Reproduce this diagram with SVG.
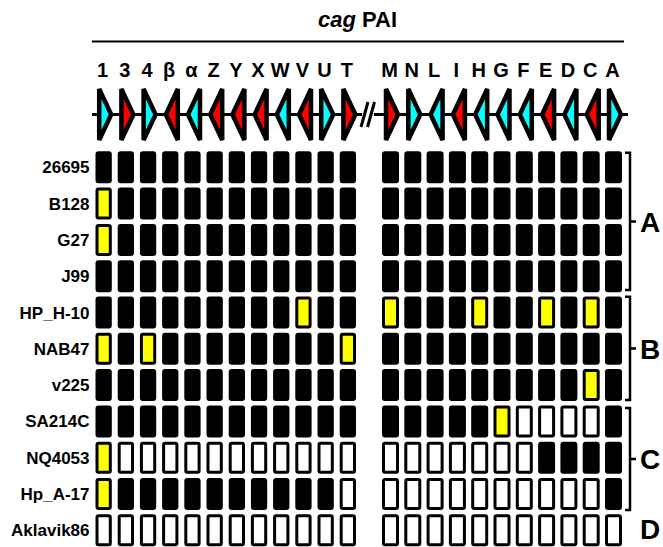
<svg xmlns="http://www.w3.org/2000/svg" xmlns:xlink="http://www.w3.org/1999/xlink" width="663" height="547" viewBox="0 0 663 547">
  <style>
    text { font-family: "Liberation Sans", Arial, sans-serif; font-weight: bold; fill: #000; }
    .title { font-size: 22px; }
    .gene { font-size: 20px; text-anchor: middle; }
    .strain { font-size: 17px; text-anchor: end; }
    .grp { font-size: 28px; }
    .k { fill: #000; }
    .w { fill: #fff; }
    .y { fill: #ffff00; }
    .cell { stroke: #000; stroke-width: 3; }
    .cy { fill: #00ffff; }
    .rd { fill: #ff0000; }
    .gene-arrow { stroke: #000; stroke-width: 4.5; stroke-linejoin: miter; stroke-miterlimit: 3; }
    .line { stroke: #000; fill: none; }
  </style>
  <defs>
    <rect id="cl" class="cell" width="13.3" height="29" rx="1.5"/>
    <rect id="cr" class="cell" width="14" height="29" rx="1.5"/>
    <path id="ar" class="gene-arrow" d="M-6,-25.5 L6,0 L-6,25.5 Z"/>
  </defs>

  <rect width="663" height="547" fill="#fff"/>

  <!-- header -->
  <g id="header">
    <text class="title" x="357.5" y="27" text-anchor="middle"><tspan font-style="italic">cag</tspan> PAI</text>
    <line class="line" x1="92" y1="41.5" x2="624" y2="41.5" stroke-width="2"/>
  </g>

  <!-- gene names -->
  <g id="gene-labels">
    <text class="gene" x="102.6" y="77">1</text>
    <text class="gene" x="124.8" y="77">3</text>
    <text class="gene" x="147" y="77">4</text>
    <text class="gene" x="169.2" y="77">β</text>
    <text class="gene" x="191.4" y="77">α</text>
    <text class="gene" x="213.6" y="77">Z</text>
    <text class="gene" x="235.8" y="77">Y</text>
    <text class="gene" x="258" y="77">X</text>
    <text class="gene" x="280.2" y="77">W</text>
    <text class="gene" x="302.4" y="77">V</text>
    <text class="gene" x="324.6" y="77">U</text>
    <text class="gene" x="346.8" y="77">T</text>
    <text class="gene" x="389.5" y="77">M</text>
    <text class="gene" x="411.8" y="77">N</text>
    <text class="gene" x="434.1" y="77">L</text>
    <text class="gene" x="456.4" y="77">I</text>
    <text class="gene" x="478.7" y="77">H</text>
    <text class="gene" x="501" y="77">G</text>
    <text class="gene" x="523.3" y="77">F</text>
    <text class="gene" x="545.6" y="77">E</text>
    <text class="gene" x="567.9" y="77">D</text>
    <text class="gene" x="590.2" y="77">C</text>
    <text class="gene" x="612.5" y="77">A</text>
  </g>

  <!-- gene map: backbone, break mark and gene arrows -->
  <g id="connectors">
    <line class="line" x1="92" y1="114.5" x2="362" y2="114.5" stroke-width="3"/>
    <line class="line" x1="374" y1="114.5" x2="628" y2="114.5" stroke-width="3"/>
    <line class="line" x1="361" y1="127" x2="368" y2="102" stroke-width="3"/>
    <line class="line" x1="367.5" y1="127" x2="374.5" y2="102" stroke-width="3"/>
  </g>
  <g id="gene-arrows">
    <use href="#ar" class="cy" transform="translate(105.2,114.5)"/>
    <use href="#ar" class="rd" transform="translate(127.4,114.5)"/>
    <use href="#ar" class="cy" transform="translate(149.6,114.5)"/>
    <use href="#ar" class="rd" transform="translate(171.8,114.5) scale(-1,1)"/>
    <use href="#ar" class="cy" transform="translate(194,114.5) scale(-1,1)"/>
    <use href="#ar" class="rd" transform="translate(216.2,114.5) scale(-1,1)"/>
    <use href="#ar" class="rd" transform="translate(238.4,114.5) scale(-1,1)"/>
    <use href="#ar" class="rd" transform="translate(260.6,114.5) scale(-1,1)"/>
    <use href="#ar" class="cy" transform="translate(282.8,114.5) scale(-1,1)"/>
    <use href="#ar" class="rd" transform="translate(305,114.5) scale(-1,1)"/>
    <use href="#ar" class="cy" transform="translate(327.2,114.5)"/>
    <use href="#ar" class="rd" transform="translate(349.4,114.5)"/>
    <use href="#ar" class="rd" transform="translate(392,114.5)"/>
    <use href="#ar" class="cy" transform="translate(414.3,114.5)"/>
    <use href="#ar" class="cy" transform="translate(436.6,114.5) scale(-1,1)"/>
    <use href="#ar" class="rd" transform="translate(458.9,114.5) scale(-1,1)"/>
    <use href="#ar" class="cy" transform="translate(481.2,114.5) scale(-1,1)"/>
    <use href="#ar" class="cy" transform="translate(503.5,114.5) scale(-1,1)"/>
    <use href="#ar" class="cy" transform="translate(525.8,114.5) scale(-1,1)"/>
    <use href="#ar" class="rd" transform="translate(548.1,114.5) scale(-1,1)"/>
    <use href="#ar" class="cy" transform="translate(570.4,114.5) scale(-1,1)"/>
    <use href="#ar" class="rd" transform="translate(592.7,114.5) scale(-1,1)"/>
    <use href="#ar" class="cy" transform="translate(615,114.5)"/>
  </g>

  <!-- strain rows: left block columns 1..T, right block columns M..A -->
  <g id="row-26695" transform="translate(0,152.8)">
    <text class="strain" x="89.5" y="20.5">26695</text>
    <use href="#cl" x="97" class="k"/><use href="#cl" x="119.2" class="k"/><use href="#cl" x="141.4" class="k"/><use href="#cl" x="163.6" class="k"/><use href="#cl" x="185.8" class="k"/><use href="#cl" x="208" class="k"/><use href="#cl" x="230.2" class="k"/><use href="#cl" x="252.4" class="k"/><use href="#cl" x="274.6" class="k"/><use href="#cl" x="296.8" class="k"/><use href="#cl" x="319" class="k"/><use href="#cl" x="341.2" class="k"/>
    <use href="#cr" x="383.5" class="k"/><use href="#cr" x="405.8" class="k"/><use href="#cr" x="428.1" class="k"/><use href="#cr" x="450.4" class="k"/><use href="#cr" x="472.7" class="k"/><use href="#cr" x="495" class="k"/><use href="#cr" x="517.3" class="k"/><use href="#cr" x="539.6" class="k"/><use href="#cr" x="561.9" class="k"/><use href="#cr" x="584.2" class="k"/><use href="#cr" x="606.5" class="k"/>
  </g>
  <g id="row-B128" transform="translate(0,189.1)">
    <text class="strain" x="89.5" y="20.5">B128</text>
    <use href="#cl" x="97" class="y"/><use href="#cl" x="119.2" class="k"/><use href="#cl" x="141.4" class="k"/><use href="#cl" x="163.6" class="k"/><use href="#cl" x="185.8" class="k"/><use href="#cl" x="208" class="k"/><use href="#cl" x="230.2" class="k"/><use href="#cl" x="252.4" class="k"/><use href="#cl" x="274.6" class="k"/><use href="#cl" x="296.8" class="k"/><use href="#cl" x="319" class="k"/><use href="#cl" x="341.2" class="k"/>
    <use href="#cr" x="383.5" class="k"/><use href="#cr" x="405.8" class="k"/><use href="#cr" x="428.1" class="k"/><use href="#cr" x="450.4" class="k"/><use href="#cr" x="472.7" class="k"/><use href="#cr" x="495" class="k"/><use href="#cr" x="517.3" class="k"/><use href="#cr" x="539.6" class="k"/><use href="#cr" x="561.9" class="k"/><use href="#cr" x="584.2" class="k"/><use href="#cr" x="606.5" class="k"/>
  </g>
  <g id="row-G27" transform="translate(0,225.4)">
    <text class="strain" x="89.5" y="20.5">G27</text>
    <use href="#cl" x="97" class="y"/><use href="#cl" x="119.2" class="k"/><use href="#cl" x="141.4" class="k"/><use href="#cl" x="163.6" class="k"/><use href="#cl" x="185.8" class="k"/><use href="#cl" x="208" class="k"/><use href="#cl" x="230.2" class="k"/><use href="#cl" x="252.4" class="k"/><use href="#cl" x="274.6" class="k"/><use href="#cl" x="296.8" class="k"/><use href="#cl" x="319" class="k"/><use href="#cl" x="341.2" class="k"/>
    <use href="#cr" x="383.5" class="k"/><use href="#cr" x="405.8" class="k"/><use href="#cr" x="428.1" class="k"/><use href="#cr" x="450.4" class="k"/><use href="#cr" x="472.7" class="k"/><use href="#cr" x="495" class="k"/><use href="#cr" x="517.3" class="k"/><use href="#cr" x="539.6" class="k"/><use href="#cr" x="561.9" class="k"/><use href="#cr" x="584.2" class="k"/><use href="#cr" x="606.5" class="k"/>
  </g>
  <g id="row-J99" transform="translate(0,261.7)">
    <text class="strain" x="89.5" y="20.5">J99</text>
    <use href="#cl" x="97" class="k"/><use href="#cl" x="119.2" class="k"/><use href="#cl" x="141.4" class="k"/><use href="#cl" x="163.6" class="k"/><use href="#cl" x="185.8" class="k"/><use href="#cl" x="208" class="k"/><use href="#cl" x="230.2" class="k"/><use href="#cl" x="252.4" class="k"/><use href="#cl" x="274.6" class="k"/><use href="#cl" x="296.8" class="k"/><use href="#cl" x="319" class="k"/><use href="#cl" x="341.2" class="k"/>
    <use href="#cr" x="383.5" class="k"/><use href="#cr" x="405.8" class="k"/><use href="#cr" x="428.1" class="k"/><use href="#cr" x="450.4" class="k"/><use href="#cr" x="472.7" class="k"/><use href="#cr" x="495" class="k"/><use href="#cr" x="517.3" class="k"/><use href="#cr" x="539.6" class="k"/><use href="#cr" x="561.9" class="k"/><use href="#cr" x="584.2" class="k"/><use href="#cr" x="606.5" class="k"/>
  </g>
  <g id="row-HP_H-10" transform="translate(0,298)">
    <text class="strain" x="89.5" y="20.5">HP_H-10</text>
    <use href="#cl" x="97" class="k"/><use href="#cl" x="119.2" class="k"/><use href="#cl" x="141.4" class="k"/><use href="#cl" x="163.6" class="k"/><use href="#cl" x="185.8" class="k"/><use href="#cl" x="208" class="k"/><use href="#cl" x="230.2" class="k"/><use href="#cl" x="252.4" class="k"/><use href="#cl" x="274.6" class="k"/><use href="#cl" x="296.8" class="y"/><use href="#cl" x="319" class="k"/><use href="#cl" x="341.2" class="k"/>
    <use href="#cr" x="383.5" class="y"/><use href="#cr" x="405.8" class="k"/><use href="#cr" x="428.1" class="k"/><use href="#cr" x="450.4" class="k"/><use href="#cr" x="472.7" class="y"/><use href="#cr" x="495" class="k"/><use href="#cr" x="517.3" class="k"/><use href="#cr" x="539.6" class="y"/><use href="#cr" x="561.9" class="k"/><use href="#cr" x="584.2" class="y"/><use href="#cr" x="606.5" class="k"/>
  </g>
  <g id="row-NAB47" transform="translate(0,334.3)">
    <text class="strain" x="89.5" y="20.5">NAB47</text>
    <use href="#cl" x="97" class="y"/><use href="#cl" x="119.2" class="k"/><use href="#cl" x="141.4" class="y"/><use href="#cl" x="163.6" class="k"/><use href="#cl" x="185.8" class="k"/><use href="#cl" x="208" class="k"/><use href="#cl" x="230.2" class="k"/><use href="#cl" x="252.4" class="k"/><use href="#cl" x="274.6" class="k"/><use href="#cl" x="296.8" class="k"/><use href="#cl" x="319" class="k"/><use href="#cl" x="341.2" class="y"/>
    <use href="#cr" x="383.5" class="k"/><use href="#cr" x="405.8" class="k"/><use href="#cr" x="428.1" class="k"/><use href="#cr" x="450.4" class="k"/><use href="#cr" x="472.7" class="k"/><use href="#cr" x="495" class="k"/><use href="#cr" x="517.3" class="k"/><use href="#cr" x="539.6" class="k"/><use href="#cr" x="561.9" class="k"/><use href="#cr" x="584.2" class="k"/><use href="#cr" x="606.5" class="k"/>
  </g>
  <g id="row-v225" transform="translate(0,370.6)">
    <text class="strain" x="89.5" y="20.5">v225</text>
    <use href="#cl" x="97" class="k"/><use href="#cl" x="119.2" class="k"/><use href="#cl" x="141.4" class="k"/><use href="#cl" x="163.6" class="k"/><use href="#cl" x="185.8" class="k"/><use href="#cl" x="208" class="k"/><use href="#cl" x="230.2" class="k"/><use href="#cl" x="252.4" class="k"/><use href="#cl" x="274.6" class="k"/><use href="#cl" x="296.8" class="k"/><use href="#cl" x="319" class="k"/><use href="#cl" x="341.2" class="k"/>
    <use href="#cr" x="383.5" class="k"/><use href="#cr" x="405.8" class="k"/><use href="#cr" x="428.1" class="k"/><use href="#cr" x="450.4" class="k"/><use href="#cr" x="472.7" class="k"/><use href="#cr" x="495" class="k"/><use href="#cr" x="517.3" class="k"/><use href="#cr" x="539.6" class="k"/><use href="#cr" x="561.9" class="k"/><use href="#cr" x="584.2" class="y"/><use href="#cr" x="606.5" class="k"/>
  </g>
  <g id="row-SA214C" transform="translate(0,406.9)">
    <text class="strain" x="89.5" y="20.5">SA214C</text>
    <use href="#cl" x="97" class="k"/><use href="#cl" x="119.2" class="k"/><use href="#cl" x="141.4" class="k"/><use href="#cl" x="163.6" class="k"/><use href="#cl" x="185.8" class="k"/><use href="#cl" x="208" class="k"/><use href="#cl" x="230.2" class="k"/><use href="#cl" x="252.4" class="k"/><use href="#cl" x="274.6" class="k"/><use href="#cl" x="296.8" class="k"/><use href="#cl" x="319" class="k"/><use href="#cl" x="341.2" class="k"/>
    <use href="#cr" x="383.5" class="k"/><use href="#cr" x="405.8" class="k"/><use href="#cr" x="428.1" class="k"/><use href="#cr" x="450.4" class="k"/><use href="#cr" x="472.7" class="k"/><use href="#cr" x="495" class="y"/><use href="#cr" x="517.3" class="w"/><use href="#cr" x="539.6" class="w"/><use href="#cr" x="561.9" class="w"/><use href="#cr" x="584.2" class="w"/><use href="#cr" x="606.5" class="k"/>
  </g>
  <g id="row-NQ4053" transform="translate(0,443.2)">
    <text class="strain" x="89.5" y="20.5">NQ4053</text>
    <use href="#cl" x="97" class="y"/><use href="#cl" x="119.2" class="w"/><use href="#cl" x="141.4" class="w"/><use href="#cl" x="163.6" class="w"/><use href="#cl" x="185.8" class="w"/><use href="#cl" x="208" class="w"/><use href="#cl" x="230.2" class="w"/><use href="#cl" x="252.4" class="w"/><use href="#cl" x="274.6" class="w"/><use href="#cl" x="296.8" class="w"/><use href="#cl" x="319" class="w"/><use href="#cl" x="341.2" class="w"/>
    <use href="#cr" x="383.5" class="w"/><use href="#cr" x="405.8" class="w"/><use href="#cr" x="428.1" class="w"/><use href="#cr" x="450.4" class="w"/><use href="#cr" x="472.7" class="w"/><use href="#cr" x="495" class="w"/><use href="#cr" x="517.3" class="w"/><use href="#cr" x="539.6" class="k"/><use href="#cr" x="561.9" class="k"/><use href="#cr" x="584.2" class="k"/><use href="#cr" x="606.5" class="k"/>
  </g>
  <g id="row-Hp_A-17" transform="translate(0,479.5)">
    <text class="strain" x="89.5" y="20.5">Hp_A-17</text>
    <use href="#cl" x="97" class="y"/><use href="#cl" x="119.2" class="k"/><use href="#cl" x="141.4" class="k"/><use href="#cl" x="163.6" class="k"/><use href="#cl" x="185.8" class="k"/><use href="#cl" x="208" class="k"/><use href="#cl" x="230.2" class="k"/><use href="#cl" x="252.4" class="k"/><use href="#cl" x="274.6" class="k"/><use href="#cl" x="296.8" class="k"/><use href="#cl" x="319" class="k"/><use href="#cl" x="341.2" class="w"/>
    <use href="#cr" x="383.5" class="w"/><use href="#cr" x="405.8" class="w"/><use href="#cr" x="428.1" class="w"/><use href="#cr" x="450.4" class="w"/><use href="#cr" x="472.7" class="w"/><use href="#cr" x="495" class="w"/><use href="#cr" x="517.3" class="w"/><use href="#cr" x="539.6" class="w"/><use href="#cr" x="561.9" class="w"/><use href="#cr" x="584.2" class="w"/><use href="#cr" x="606.5" class="k"/>
  </g>
  <g id="row-Aklavik86" transform="translate(0,515.8)">
    <text class="strain" x="89.5" y="20.5">Aklavik86</text>
    <use href="#cl" x="97" class="w"/><use href="#cl" x="119.2" class="w"/><use href="#cl" x="141.4" class="w"/><use href="#cl" x="163.6" class="w"/><use href="#cl" x="185.8" class="w"/><use href="#cl" x="208" class="w"/><use href="#cl" x="230.2" class="w"/><use href="#cl" x="252.4" class="w"/><use href="#cl" x="274.6" class="w"/><use href="#cl" x="296.8" class="w"/><use href="#cl" x="319" class="w"/><use href="#cl" x="341.2" class="w"/>
    <use href="#cr" x="383.5" class="w"/><use href="#cr" x="405.8" class="w"/><use href="#cr" x="428.1" class="w"/><use href="#cr" x="450.4" class="w"/><use href="#cr" x="472.7" class="w"/><use href="#cr" x="495" class="w"/><use href="#cr" x="517.3" class="w"/><use href="#cr" x="539.6" class="w"/><use href="#cr" x="561.9" class="w"/><use href="#cr" x="584.2" class="w"/><use href="#cr" x="606.5" class="w"/>
  </g>

  <!-- group brackets -->
  <g id="group-A">
    <path class="line" stroke-width="2.5" d="M625,152.7 H630 V290 H625 M630,221.4 H636"/>
    <text class="grp" x="640" y="231.5">A</text>
  </g>
  <g id="group-B">
    <path class="line" stroke-width="2.5" d="M625,296.7 H630 V400 H625 M630,348.4 H636"/>
    <text class="grp" x="640" y="358.5">B</text>
  </g>
  <g id="group-C">
    <path class="line" stroke-width="2.5" d="M625,408 H630 V510 H625 M630,459 H636"/>
    <text class="grp" x="640" y="469">C</text>
  </g>
  <g id="group-D">
    <text class="grp" x="640" y="539">D</text>
  </g>
</svg>
